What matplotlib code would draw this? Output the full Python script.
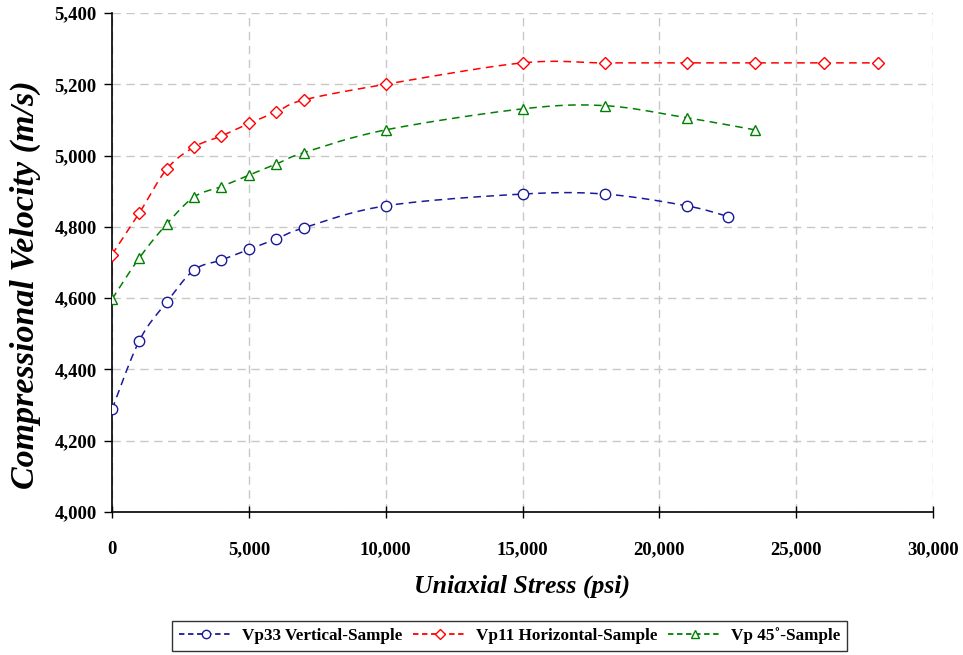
import numpy as np
import matplotlib.pyplot as plt
from matplotlib.ticker import FuncFormatter, MultipleLocator

# stress (psi) and velocities (m/s)
stress_v33 = [0, 1000, 2000, 3000, 4000, 5000, 6000, 7000, 10000, 15000, 18000, 21000, 22500]
vp33 = [4288, 4481, 4589, 4679, 4707, 4737, 4766, 4797, 4859, 4892, 4892, 4859, 4829]

stress_v11 = [0, 1000, 2000, 3000, 4000, 5000, 6000, 7000, 10000, 15000, 18000, 21000, 23500, 26000, 28000]
vp11 = [4722, 4839, 4962, 5024, 5055, 5090, 5122, 5156, 5200, 5260, 5260, 5260, 5260, 5260, 5260]

stress_v45 = [0, 1000, 2000, 3000, 4000, 5000, 6000, 7000, 10000, 15000, 18000, 21000, 23500]
vp45 = [4597, 4713, 4808, 4884, 4913, 4945, 4976, 5008, 5072, 5131, 5140, 5106, 5072]

labels = ["Vp33 Vertical-Sample", "Vp11 Horizontal-Sample", "Vp 45\u02da-Sample"]
colors = ["#1a1a99", "#ff0000", "#008000"]
markers = ["o", "D", "^"]


def smooth(xs, ys, n=20):
    # Excel-like smoothed line: Catmull-Rom segments written as Bezier curves
    p = np.column_stack([xs, ys]).astype(float)
    p = np.vstack([p[0], p, p[-1]])
    out = []
    t = np.linspace(0, 1, n)[:, None]
    for i in range(1, len(p) - 2):
        p0, p1, p2, p3 = p[i - 1], p[i], p[i + 1], p[i + 2]
        c1 = p1 + (p2 - p0) / 6
        c2 = p2 - (p3 - p1) / 6
        seg = ((1 - t) ** 3) * p1 + 3 * ((1 - t) ** 2) * t * c1 + 3 * (1 - t) * t ** 2 * c2 + t ** 3 * p2
        out.append(seg)
    out = np.vstack(out)
    return out[:, 0], out[:, 1]


plt.rcParams['font.family'] = ['Liberation Serif', 'DejaVu Serif']

fig = plt.figure(figsize=(9.63, 6.55), dpi=100)
ax = fig.add_axes([0.1163, 0.2183, 0.8526, 0.7619])

series = [(stress_v33, vp33), (stress_v11, vp11), (stress_v45, vp45)]
handles = []
for (xs, ys), lab, col, mk in zip(series, labels, colors, markers):
    sx, sy = smooth(xs, ys)
    ax.plot(sx, sy, color=col, lw=1.1, ls=(0, (5, 3.5)), zorder=3)
    ax.plot(xs, ys, ls='none', marker=mk, ms=7.5 if mk != 'D' else 6.5,
            mfc='white', mec=col, mew=1.0, zorder=4)
    # proxy for the legend
    h, = ax.plot([], [], color=col, lw=1.3, ls=(0, (3, 2)), marker=mk,
                 ms=6 if mk != 'D' else 5, mfc='white', mec=col, mew=1.0, label=lab)
    handles.append(h)

ax.set_xlim(0, 30000)
ax.set_ylim(4000, 5400)
ax.xaxis.set_major_locator(MultipleLocator(5000))
ax.yaxis.set_major_locator(MultipleLocator(200))
fmt = FuncFormatter(lambda v, pos: f"{int(v):,}")
ax.xaxis.set_major_formatter(fmt)
ax.yaxis.set_major_formatter(fmt)

ax.grid(True, color='#c8c8c8', ls=(0, (6, 4)), lw=1.0)
ax.set_axisbelow(True)
for side in ['top', 'right']:
    ax.spines[side].set_visible(False)
for side in ['left', 'bottom']:
    ax.spines[side].set_linewidth(1.2)

ax.tick_params(axis='y', direction='out', length=6, width=1, labelsize=13.5, pad=5)
ax.tick_params(axis='x', direction='inout', length=8, width=1, labelsize=13.5, pad=17)
for lbl in ax.get_xticklabels() + ax.get_yticklabels():
    lbl.set_fontweight('bold')

ax.set_xlabel("Uniaxial Stress (psi)", fontsize=18.5, fontstyle='italic', fontweight='bold', labelpad=12)
ax.set_ylabel("Compressional Velocity (m/s)", fontsize=24.5, fontstyle='italic', fontweight='bold')
ax.yaxis.set_label_coords(-0.087, 0.455)

leg = fig.legend(handles=handles, loc='center', bbox_to_anchor=(0.529, 0.029), ncol=3,
                 frameon=True, fancybox=False, edgecolor='black', handlelength=3.2,
                 handletextpad=0.5, columnspacing=0.6, borderpad=0.4,
                 prop={'weight': 'bold', 'size': 12.3})
leg.get_frame().set_linewidth(1.0)

fig.savefig("out.png", dpi=100)
